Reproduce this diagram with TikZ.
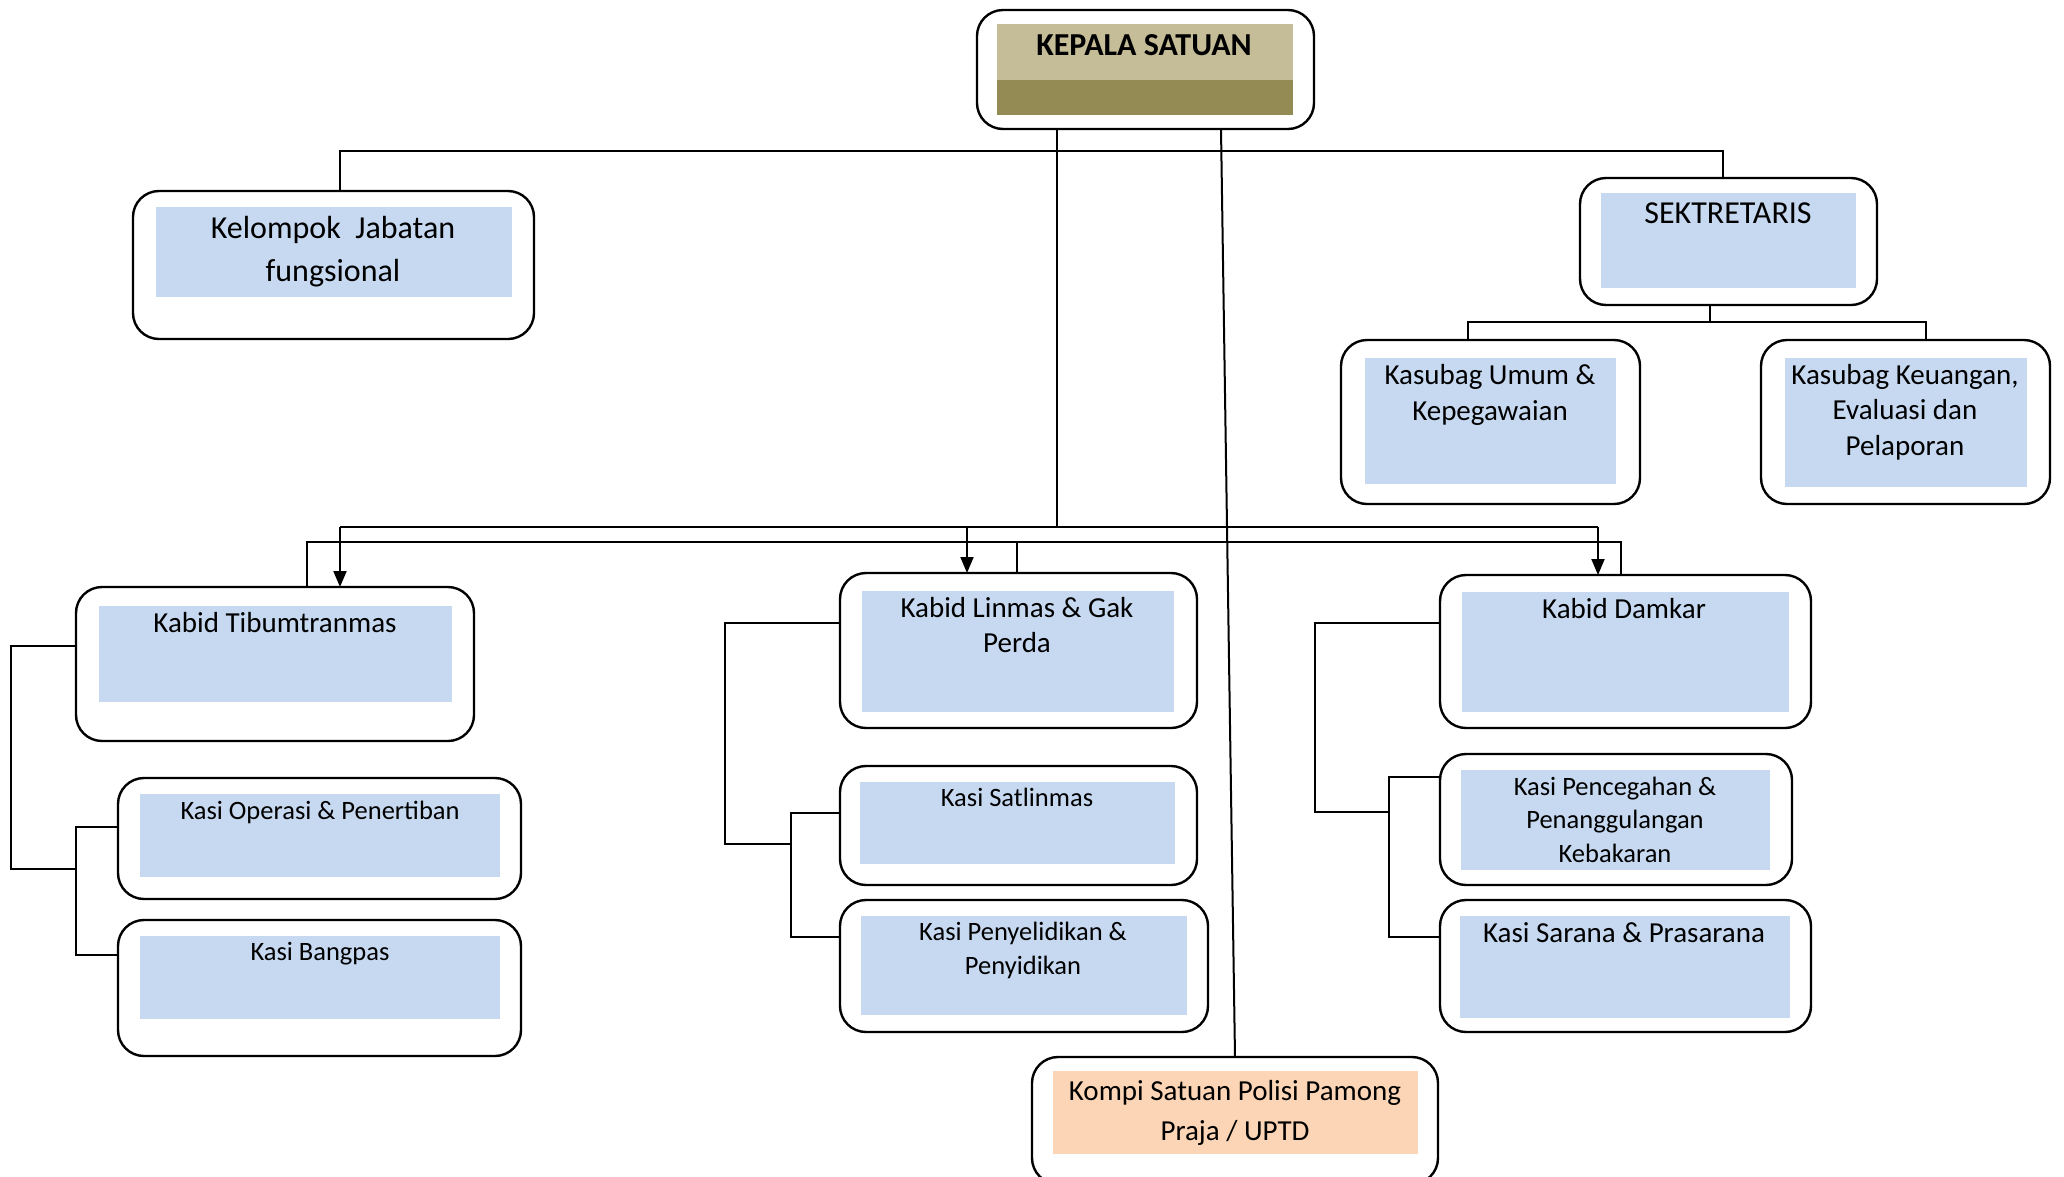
\documentclass[tikz,border=0pt]{standalone}
\usepackage{fontspec}
\setmainfont{Carlito}
\usetikzlibrary{arrows.meta}
\definecolor{boxblue}{HTML}{C6D9F1}
\definecolor{olivelight}{HTML}{C4BD97}
\definecolor{olivedark}{HTML}{948A54}
\definecolor{peach}{HTML}{FBD5B5}
\tikzset{
  outerbox/.style={draw=black, line width=2.4pt, rounded corners=26pt, fill=white, inner sep=0pt, outer sep=0pt},
  fillbox/.style={draw=none, inner sep=0pt, outer sep=0pt},
  lbl/.style 2 args={anchor=base, align=center, inner sep=0pt, outer sep=0pt, font=\fontsize{#1}{#2}\selectfont},
  conn/.style={line width=2pt, line join=miter},
  arr/.style={conn, -{Triangle[length=16pt,width=13pt]}}
}
\newcommand{\obox}[5]{\node[outerbox, minimum width=#4pt, minimum height=#5pt] (#1) at (#2,#3) {};}
\newcommand{\ibox}[6]{\node[fillbox, fill=#6, minimum width=#4pt, minimum height=#5pt] (#1) at (#2,#3) {};}
\begin{document}
\begin{tikzpicture}[x=1pt,y=-1pt]
\fill[white] (0,0) rectangle (2064,1176);
\useasboundingbox (0,0) rectangle (2064,1176);

% ---------- boxes (text anchored at the baseline of its last line) ----------
\obox{kepala}{1145.5}{69.5}{337}{119}
\ibox{kepalaA}{1145}{52}{296}{56}{olivelight}
\ibox{kepalaB}{1145}{97.5}{296}{35}{olivedark}
\node[lbl={32}{38}, font=\fontsize{32}{38}\selectfont\bfseries] (tKepala) at (1144,55) {KEPALA SATUAN};

\obox{kelompok}{333.5}{265}{401}{148}
\ibox{kelompokF}{334}{252}{356}{90}{boxblue}
\node[lbl={32}{43.5}] (tKelompok) at (333,281.5) {Kelompok\ \ Jabatan\\fungsional};

\obox{sek}{1728.5}{241.5}{297}{127}
\ibox{sekF}{1728.5}{240.5}{255}{95}{boxblue}
\node[lbl={32}{38}] (tSek) at (1728,223) {SEKTRETARIS};

\obox{kasUmum}{1490.5}{422}{299}{164}
\ibox{kasUmumF}{1490.5}{421}{251}{126}{boxblue}
\node[lbl={29}{35.5}] (tKasUmum) at (1490,420) {Kasubag Umum \&\\Kepegawaian};

\obox{kasKeu}{1905.5}{422}{289}{164}
\ibox{kasKeuF}{1906}{422.5}{242}{129}{boxblue}
\node[lbl={29}{35.5}] (tKasKeu) at (1905,455) {Kasubag Keuangan,\\Evaluasi dan\\Pelaporan};

\obox{tib}{275}{664}{398}{154}
\ibox{tibF}{275.5}{654}{353}{96}{boxblue}
\node[lbl={29}{35}] (tTib) at (275,632) {Kabid Tibumtranmas};

\obox{kOps}{319.5}{838.5}{403}{121}
\ibox{kOpsF}{320}{835.5}{360}{83}{boxblue}
\node[lbl={26.5}{34}] (tOps) at (320,819) {Kasi Operasi \& Penertiban};

\obox{kBang}{319.5}{988}{403}{136}
\ibox{kBangF}{320}{977.5}{360}{83}{boxblue}
\node[lbl={26.5}{34}] (tBang) at (320,960) {Kasi Bangpas};

\obox{linmas}{1018.5}{650.5}{357}{155}
\ibox{linmasF}{1018}{651.5}{312}{121}{boxblue}
\node[lbl={29}{35}] (tLinmas) at (1017,652) {Kabid Linmas \& Gak\\Perda};

\obox{kSat}{1018.5}{825.5}{357}{119}
\ibox{kSatF}{1017.5}{823}{315}{82}{boxblue}
\node[lbl={26.5}{34}] (tSat) at (1017,806) {Kasi Satlinmas};

\obox{kPeny}{1024}{966}{368}{132}
\ibox{kPenyF}{1024}{965.5}{326}{99}{boxblue}
\node[lbl={26.5}{34}] (tPeny) at (1023,974) {Kasi Penyelidikan \&\\Penyidikan};

\obox{damkar}{1625.5}{651.5}{371}{153}
\ibox{damkarF}{1625.5}{652}{327}{120}{boxblue}
\node[lbl={29}{35}] (tDamkar) at (1624,618) {Kabid Damkar};

\obox{kPen}{1616}{819.5}{352}{131}
\ibox{kPenF}{1615.5}{820}{309}{100}{boxblue}
\node[lbl={26.5}{33.5}] (tPen) at (1615,862) {Kasi Pencegahan \&\\Penanggulangan\\Kebakaran};

\obox{kSar}{1625.5}{966}{371}{132}
\ibox{kSarF}{1625}{967}{330}{102}{boxblue}
\node[lbl={29}{35}] (tSar) at (1624,942) {Kasi Sarana \& Prasarana};

\obox{kompi}{1235}{1120.5}{406}{127}
\ibox{kompiF}{1235.5}{1112.5}{365}{83}{peach}
\node[lbl={29}{40}] (tKompi) at (1235,1140) {Kompi Satuan Polisi Pamong\\Praja / UPTD};

% ---------- connectors ----------
\coordinate (tA) at (340,151);
\coordinate (tB) at (1723,151);
\draw[conn] (kelompok.north -| tA) -- (tA) -- (tB) -- (sek.north -| tB);

\coordinate (kv) at (1057,527);
\draw[conn] (kepala.south -| kv) -- (kv);

\coordinate (sTop) at (1221,0);
\coordinate (sBot) at (1235,0);
\draw[conn] (kepala.south -| sTop) -- (kompi.north -| sBot);

\coordinate (sekV) at (1710,322);
\coordinate (sekL) at (1468,322);
\coordinate (sekR) at (1926,322);
\draw[conn] (sek.south -| sekV) -- (sekV);
\draw[conn] (kasUmum.north -| sekL) -- (sekL) -- (sekR) -- (kasKeu.north -| sekR);

% bus A (arrows)
\coordinate (aL) at (340,527);
\coordinate (aM) at (967,527);
\coordinate (aR) at (1598,527);
\draw[conn] (aL) -- (aR);
\draw[arr] (aL) -- (tib.north -| aL);
\draw[arr] (aM) -- (linmas.north -| aM);
\draw[arr] (aR) -- (damkar.north -| aR);

% bus B
\coordinate (bL) at (307,542);
\coordinate (bM) at (1017,542);
\coordinate (bR) at (1621,542);
\draw[conn] (tib.north -| bL) -- (bL) -- (bR) -- (damkar.north -| bR);
\draw[conn] (bM) -- (linmas.north -| bM);

% Tibumtranmas branch
\coordinate (tibH) at (10.5,646);
\coordinate (tibJ) at (76,869);
\coordinate (tibK1) at (76,827);
\coordinate (tibK2) at (76,955);
\draw[conn] (tib.west |- tibH) -- (tibH) |- (tibJ);
\draw[conn] (kOps.west |- tibK1) -- (tibK1) -- (tibK2) -- (kBang.west |- tibK2);

% Linmas branch
\coordinate (linH) at (725,623);
\coordinate (linJ) at (791,844);
\coordinate (linK1) at (791,813);
\coordinate (linK2) at (791,937);
\draw[conn] (linmas.west |- linH) -- (linH) |- (linJ);
\draw[conn] (kSat.west |- linK1) -- (linK1) -- (linK2) -- (kPeny.west |- linK2);

% Damkar branch
\coordinate (damH) at (1315,623);
\coordinate (damJ) at (1389,812);
\coordinate (damK1) at (1389,777);
\coordinate (damK2) at (1389,937);
\draw[conn] (damkar.west |- damH) -- (damH) |- (damJ);
\draw[conn] (kPen.west |- damK1) -- (damK1) -- (damK2) -- (kSar.west |- damK2);
\end{tikzpicture}
\end{document}
